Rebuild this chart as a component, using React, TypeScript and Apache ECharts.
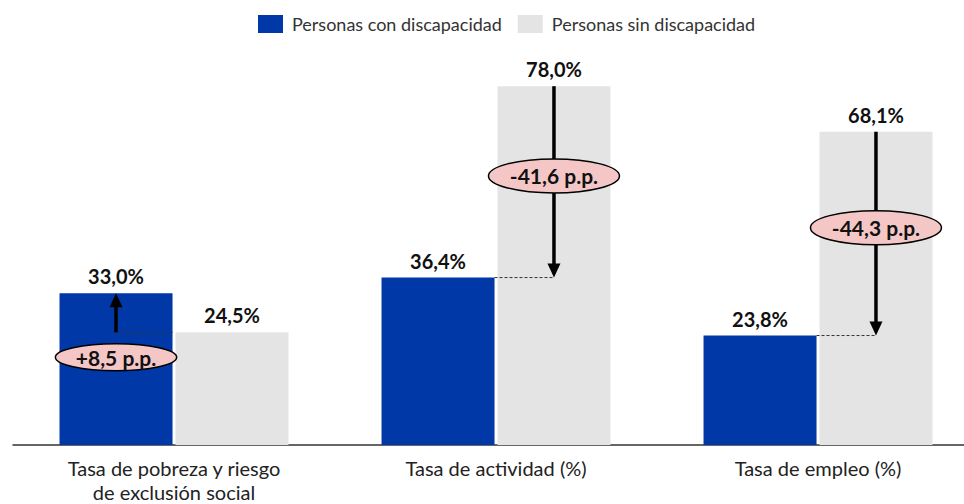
import React, { useEffect, useRef } from "react";
import * as echarts from "echarts";

const categories = [
  "Tasa de pobreza y riesgo\nde exclusión social",
  "Tasa de actividad (%)",
  "Tasa de empleo (%)",
];
const seriesNames = ["Personas con discapacidad", "Personas sin discapacidad"];
const conDiscapacidad = [33.0, 36.4, 23.8];
const sinDiscapacidad = [24.5, 78.0, 68.1];

const BLUE = "#0038A8";
const GREY = "#E4E4E4";
const PINK = "#F4C7C6";
const FONT = "Lato";
const BAR_W = 113;
const GAP_RATIO = 0.026;

const fmt = (v: number) => v.toFixed(1).replace(".", ",");

export default function App() {
  const ref = useRef<HTMLDivElement>(null);
  useEffect(() => {
    if (!ref.current) return;
    const chart = echarts.init(ref.current, null, { renderer: "svg" });
    const gapPx = BAR_W * GAP_RATIO;
    const off = (BAR_W + gapPx) / 2;

    const labelStyle = {
      show: true,
      position: "top" as const,
      distance: 7,
      fontFamily: FONT,
      fontWeight: "bold" as const,
      fontSize: 20,
      color: "#111",
      formatter: (p: any) => fmt(p.value) + "%",
    };

    const annData = categories.map((_, i) => [i, conDiscapacidad[i], sinDiscapacidad[i]]);

    const renderItem = (params: any, api: any) => {
      const idx = api.value(0);
      const con = api.value(1);
      const sin = api.value(2);
      const cx = api.coord([idx, 0])[0];
      const conX = cx - off;
      const sinX = cx + off;
      const yCon = api.coord([idx, con])[1];
      const ySin = api.coord([idx, sin])[1];
      const up = con > sin;
      const arrowX = up ? conX : sinX;
      const headLen = 14;
      const headHalf = 6.5;
      const dir = up ? -1 : 1;
      const lowY = up ? ySin : yCon;
      const dashFrom = up ? arrowX : cx - gapPx / 2;
      const dashTo = up ? cx - gapPx / 2 : arrowX;
      const diff = con - sin;
      const text = (diff > 0 ? "+" : "") + fmt(diff) + " p.p.";
      const rx = (text.length * 9.7) / 2 + 17;
      const ry = up ? 13.5 : 17;
      const ey = up ? ySin + 25 : (ySin + yCon) / 2 - 6;
      return {
        type: "group",
        children: [
          {
            type: "line",
            shape: { x1: dashFrom, y1: lowY, x2: dashTo, y2: lowY },
            style: { stroke: "#333", lineWidth: 1, lineDash: [3, 2] },
          },
          {
            type: "line",
            shape: { x1: arrowX, y1: ySin, x2: arrowX, y2: yCon - dir * (headLen - 1) },
            style: { stroke: "#000", lineWidth: 3.5 },
          },
          {
            type: "polygon",
            shape: {
              points: [
                [arrowX, yCon],
                [arrowX - headHalf, yCon - dir * headLen],
                [arrowX + headHalf, yCon - dir * headLen],
              ],
            },
            style: { fill: "#000" },
          },
          {
            type: "ellipse",
            shape: { cx: arrowX, cy: ey, rx, ry },
            style: { fill: PINK, stroke: "#000", lineWidth: 1.5 },
          },
          {
            type: "text",
            style: {
              text,
              x: arrowX,
              y: ey,
              align: "center",
              verticalAlign: "middle",
              fontFamily: FONT,
              fontWeight: "bold",
              fontSize: 21,
              fill: "#111",
            },
          },
        ],
      };
    };

    chart.setOption({
      animation: false,
      textStyle: { fontFamily: FONT },
      legend: {
        top: 15,
        left: 258,
        padding: 0,
        data: seriesNames,
        itemWidth: 25,
        itemHeight: 18,
        itemGap: 16,
        icon: "rect",
        textStyle: { fontFamily: FONT, fontSize: 18, color: "#333", padding: [0, 0, 0, 4] },
        selectedMode: false,
      },
      grid: { left: 13, right: 1, top: 77, bottom: 59, outerBoundsMode: "none", containLabel: false },
      xAxis: {
        type: "category",
        data: categories,
        axisLine: { lineStyle: { color: "#333", width: 1.5 } },
        axisTick: { length: 8, lineStyle: { color: "#333", width: 1.5 } },
        axisLabel: {
          fontFamily: FONT,
          fontSize: 20,
          color: "#222",
          lineHeight: 24,
          margin: 11,
          interval: 0,
        },
      },
      yAxis: { type: "value", min: 0, max: 80, show: false, splitLine: { show: false } },
      series: [
        {
          name: seriesNames[0],
          type: "bar",
          data: conDiscapacidad,
          barWidth: BAR_W,
          barGap: GAP_RATIO * 100 + "%",
          itemStyle: { color: BLUE },
          label: labelStyle,
        },
        {
          name: seriesNames[1],
          type: "bar",
          data: sinDiscapacidad,
          barWidth: BAR_W,
          barGap: GAP_RATIO * 100 + "%",
          itemStyle: { color: GREY },
          label: labelStyle,
        },
        {
          type: "custom",
          data: annData,
          renderItem,
          z: 10,
          clip: false,
          silent: true,
        },
      ],
    });
    return () => chart.dispose();
  }, []);
  return (
    <div style={{ position: "fixed", left: 0, top: 0, width: 964, height: 504, overflow: "hidden", background: "#fff" }}>
      <div ref={ref} style={{ width: 980, height: 504 }} />
    </div>
  );
}
